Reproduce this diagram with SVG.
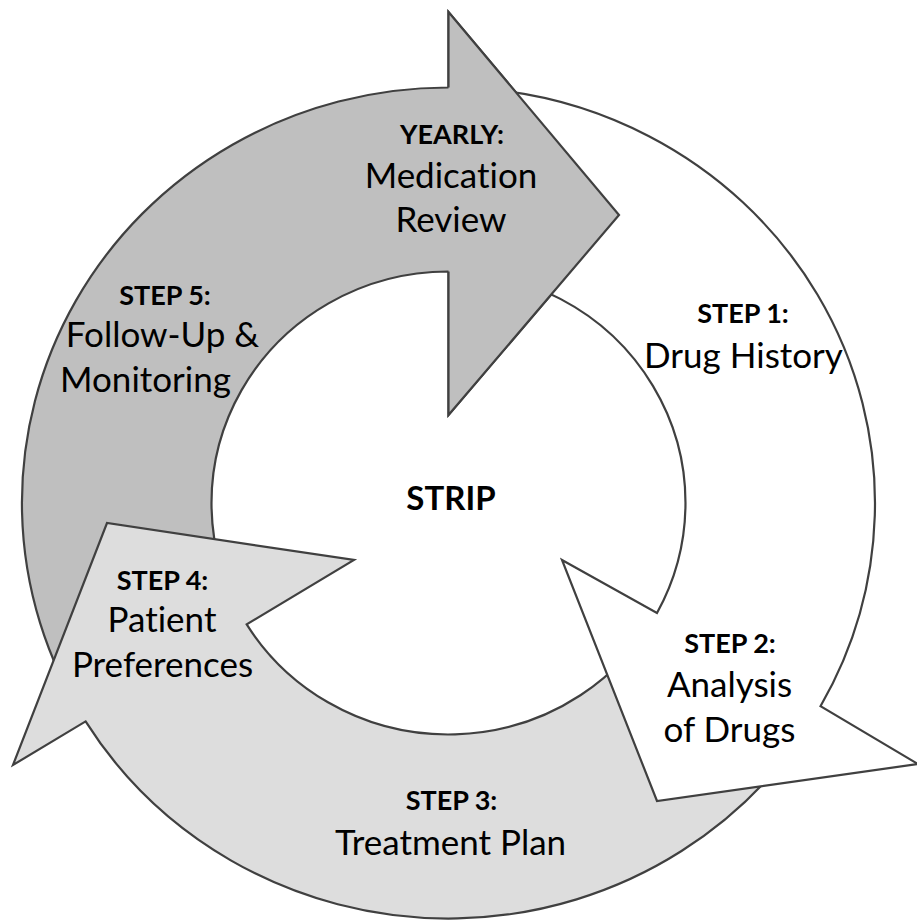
<svg xmlns="http://www.w3.org/2000/svg" width="917" height="922" viewBox="0 0 917 922">
<style>
.arw{stroke:#404040;stroke-width:2.2;stroke-linejoin:miter}
.dark{fill:#BFBFBF}
.light{fill:#DDDDDD}
.white{fill:#FFFFFF}
text{font-family:Lato,"Open Sans",sans-serif;fill:#000;text-anchor:middle;font-variant-ligatures:none;font-feature-settings:"liga" 0,"clig" 0}
.b{font-weight:bold;font-size:27px}
.r{font-size:35px}
.c{font-weight:bold;font-size:33px}
</style>
<rect width="917" height="922" fill="#FFFFFF"/>
<g id="arrow-yearly">
<path class="arw dark" d="M 85.6,721.4 A 426.5 415.5 0 0 1 448.5,87.5 L 448.5,12 L 619,215 L 448.5,415 L 448.5,271.5 A 237 231.5 0 0 0 246.7,624.4"/>
</g>
<g id="arrow-step3">
<path class="arw light" d="M 820.5,706.2 A 426.5 415.5 0 0 1 85.6,721.4 L 13,765 L 107,523 L 354,560 L 246.7,624.4 A 237 231.5 0 0 0 657,613"/>
</g>
<g id="arrow-step1">
<path class="arw white" d="M 452,87.5 A 426.5 415.5 0 0 1 820.5,706.2 L 918,764 L 657,801 L 562,560 L 657,613 A 237 231.5 0 0 0 452,271.5"/>
</g>
<g id="arrow-yearly-head">
<path class="dark" d="M 448.5,12 L 619,215 L 448.5,415 Z"/>
<path class="arw" fill="none" d="M 448.5,87.5 L 448.5,12 L 619,215 L 448.5,415 L 448.5,271.5"/>
</g>
<g id="label-yearly">
<text class="b" x="452" y="144">YEARLY:</text>
<text class="r" x="451" y="188">Medication</text>
<text class="r" x="451" y="232">Review</text>
</g>
<g id="label-step1">
<text class="b" x="743" y="323">STEP 1:</text>
<text class="r" x="743.5" y="368" font-size="34">Drug History</text>
</g>
<g id="label-step2">
<text class="b" x="730" y="653">STEP 2:</text>
<text class="r" x="729.5" y="697">Analysis</text>
<text class="r" x="729.5" y="742">of Drugs</text>
</g>
<g id="label-step3">
<text class="b" x="451.5" y="810">STEP 3:</text>
<text class="r" x="450.5" y="855">Treatment Plan</text>
</g>
<g id="label-step4">
<text class="b" x="162.5" y="590">STEP 4:</text>
<text class="r" x="162" y="632">Patient</text>
<text class="r" x="162.5" y="677">Preferences</text>
</g>
<g id="label-step5">
<text class="b" x="165" y="305">STEP 5:</text>
<text class="r" x="162.5" y="347">Follow-Up &amp;</text>
<text class="r" x="145.5" y="392">Monitoring</text>
</g>
<g id="label-center">
<text class="c" x="451" y="510">STRIP</text>
</g>
</svg>
